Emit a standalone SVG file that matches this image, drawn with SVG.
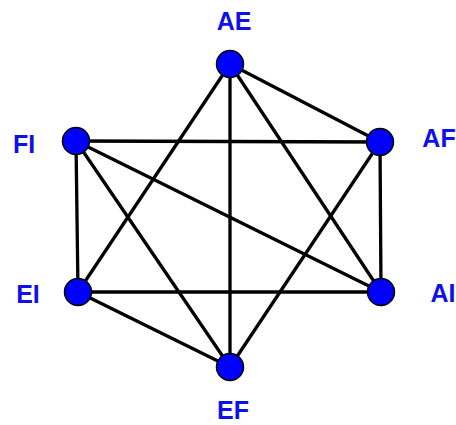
<svg xmlns="http://www.w3.org/2000/svg" width="456" height="425" viewBox="0 0 456 425">
<style>
.e{stroke:#000;stroke-width:3.3;fill:none}
.n{fill:#0000ff;stroke:#000;stroke-width:1.5}
.t{font-family:"Liberation Sans",Arial,sans-serif;font-weight:bold;font-size:25px;fill:#1010e8;text-anchor:middle}
</style>
<rect width="456" height="425" fill="#fff"/>
<g id="edges">
<line class="e" x1="230" y1="64" x2="380" y2="142"/>
<line class="e" x1="230" y1="64" x2="230" y2="367"/>
<line class="e" x1="230" y1="64" x2="78" y2="292"/>
<line class="e" x1="230" y1="64" x2="381" y2="292"/>
<line class="e" x1="76" y1="141" x2="380" y2="142"/>
<line class="e" x1="76" y1="141" x2="78" y2="292"/>
<line class="e" x1="76" y1="141" x2="381" y2="292"/>
<line class="e" x1="76" y1="141" x2="230" y2="367"/>
<line class="e" x1="78" y1="292" x2="381" y2="292"/>
<line class="e" x1="78" y1="292" x2="230" y2="367"/>
<line class="e" x1="380" y1="142" x2="381" y2="292"/>
<line class="e" x1="380" y1="142" x2="230" y2="367"/>
</g>
<g id="AE"><circle class="n" cx="230" cy="64" r="13.5"/><text class="t" x="234" y="30">AE</text></g>
<g id="AF"><circle class="n" cx="380" cy="142" r="13.5"/><text class="t" x="439" y="147">AF</text></g>
<g id="AI"><circle class="n" cx="381" cy="292" r="13.5"/><text class="t" x="443" y="302">AI</text></g>
<g id="EF"><circle class="n" cx="230" cy="367" r="13.5"/><text class="t" x="233" y="419">EF</text></g>
<g id="EI"><circle class="n" cx="78" cy="292" r="13.5"/><text class="t" x="28" y="303">EI</text></g>
<g id="FI"><circle class="n" cx="76" cy="141" r="13.5"/><text class="t" x="24" y="153">FI</text></g>
</svg>
